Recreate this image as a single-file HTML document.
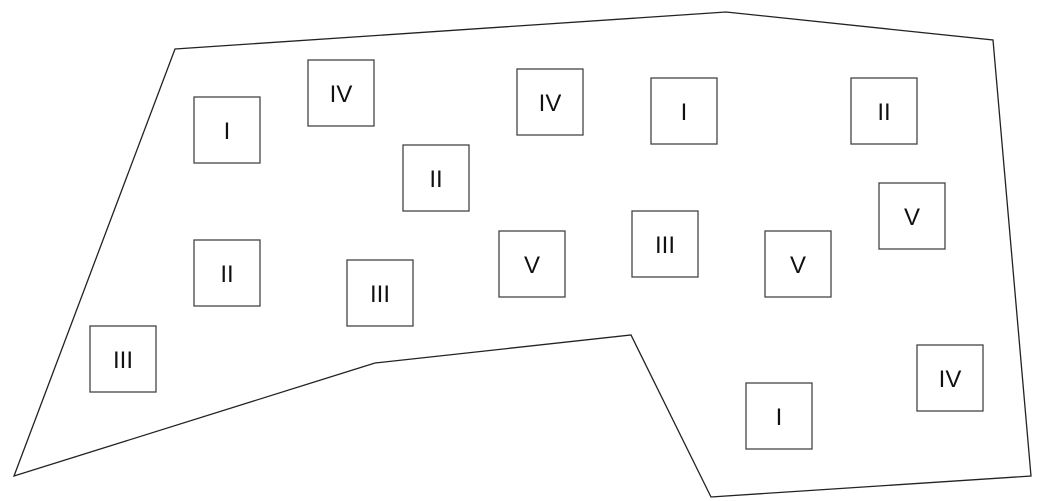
<!DOCTYPE html>
<html><head><style>html,body{margin:0;padding:0;background:#fff}</style></head><body>
<svg width="1041" height="501" xmlns="http://www.w3.org/2000/svg" style="display:block">
<polygon points="175,49 726,12 993,40 1031,476 711,497 631,335 375,363 14,476" fill="none" stroke="#222" stroke-width="1.3"/>
<g fill="none" stroke="#444" stroke-width="1.3">
<rect x="194" y="97" width="66" height="66"/>
<rect x="308" y="60" width="66" height="66"/>
<rect x="517" y="69" width="66" height="66"/>
<rect x="651" y="78" width="66" height="66"/>
<rect x="851" y="78" width="66" height="66"/>
<rect x="403" y="145" width="66" height="66"/>
<rect x="879" y="183" width="66" height="66"/>
<rect x="632" y="211" width="66" height="66"/>
<rect x="194" y="240" width="66" height="66"/>
<rect x="499" y="231" width="66" height="66"/>
<rect x="765" y="231" width="66" height="66"/>
<rect x="347" y="260" width="66" height="66"/>
<rect x="90" y="326" width="66" height="66"/>
<rect x="917" y="345" width="66" height="66"/>
<rect x="746" y="383" width="66" height="66"/>
</g>
<g font-family="Liberation Sans, sans-serif" font-size="24" text-anchor="middle" fill="#111">
<text x="227" y="139">I</text>
<text x="341" y="102">IV</text>
<text x="550" y="111">IV</text>
<text x="684" y="120">I</text>
<text x="884" y="120">II</text>
<text x="436" y="187">II</text>
<text x="912" y="225">V</text>
<text x="665" y="253">III</text>
<text x="227" y="282">II</text>
<text x="532" y="273">V</text>
<text x="798" y="273">V</text>
<text x="380" y="302">III</text>
<text x="123" y="368">III</text>
<text x="950" y="387">IV</text>
<text x="779" y="425">I</text>
</g>
</svg>
</body></html>
